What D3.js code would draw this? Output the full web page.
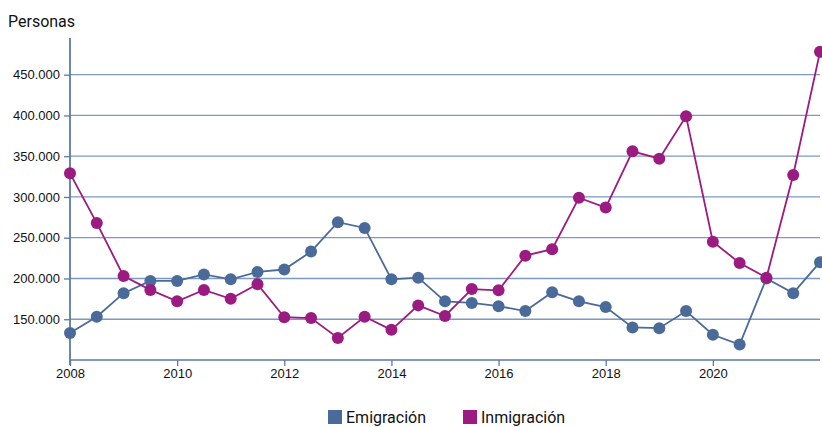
<!DOCTYPE html>
<html>
<head>
<meta charset="utf-8">
<script src="https://cdn.jsdelivr.net/npm/d3@7"></script>
<style>
  body { margin: 0; background: #fff; }
  svg { font-family: Roboto, "Liberation Sans", sans-serif; }
  .axis text { font-size: 13px; fill: #111; }
</style>
</head>
<body>
<script>
var width = 822;
var height = 427;
var margin = { top: 38, right: 2, bottom: 67, left: 70 };
var w = width - margin.left - margin.right;
var h = height - margin.top - margin.bottom;

// semiannual periods 2008 .. 2022
var periods = [2008, 2008.5, 2009, 2009.5, 2010, 2010.5, 2011, 2011.5, 2012, 2012.5,
    2013, 2013.5, 2014, 2014.5, 2015, 2015.5, 2016, 2016.5, 2017, 2017.5,
    2018, 2018.5, 2019, 2019.5, 2020, 2020.5, 2021, 2021.5, 2022];

var emigracion = [133000, 153000, 182000, 197000, 197000, 205000, 199000, 208000, 211000, 233000,
    269000, 262000, 199000, 201000, 172000, 170000, 166000, 160000, 183000, 172000,
    165000, 140000, 139000, 160000, 131000, 119000, 200000, 182000, 220000];

var inmigracion = [329000, 268000, 203000, 186000, 172000, 186000, 175000, 193000, 152500, 151500,
    127000, 153000, 137000, 167000, 154000, 187000, 185500, 228000, 236000, 299000,
    287000, 356000, 347000, 399000, 245000, 219000, 201000, 327000, 478000];

var yTicks = [150000, 200000, 250000, 300000, 350000, 400000, 450000];
var xTicks = [2008, 2010, 2012, 2014, 2016, 2018, 2020];

var seriesNames = ["Emigración", "Inmigración"];
var colors = ["#4a6b9a", "#9c1b80"];

var svg = d3.select("body").append("svg")
    .attr("width", width)
    .attr("height", height);

var chart = svg.append("g")
    .attr("transform", "translate(" + margin.left + "," + margin.top + ")");

var x = d3.scaleLinear()
    .domain([2008, 2022])
    .range([0, 750]);

var y = d3.scaleLinear()
    .domain([100000, 495000])
    .range([h, 0]);

var fmt = function (d) { return d3.format(",")(d).replace(/,/g, "."); };

// gridlines
chart.selectAll(".grid")
    .data(yTicks)
    .enter().append("line")
    .attr("class", "grid")
    .attr("x1", 0)
    .attr("x2", w)
    .attr("y1", function (d) { return y(d); })
    .attr("y2", function (d) { return y(d); })
    .style("stroke", "#7d98c2")
    .style("stroke-width", 1.3);

var yAxis = d3.axisLeft(y)
    .tickValues(yTicks)
    .tickSize(6)
    .tickPadding(4)
    .tickFormat(fmt);

var gy = chart.append("g")
    .attr("class", "axis")
    .call(yAxis);
gy.select(".domain").remove();
gy.selectAll("line").style("stroke", "#5b79a8").style("stroke-width", 1.3);

var xAxis = d3.axisBottom(x)
    .tickValues(xTicks)
    .tickSize(6)
    .tickPadding(3)
    .tickFormat(d3.format("d"));

var gx = chart.append("g")
    .attr("class", "axis")
    .attr("transform", "translate(0," + h + ")")
    .call(xAxis);
gx.select(".domain").remove();
gx.selectAll("line").style("stroke", "#5b79a8").style("stroke-width", 1.3);

// axis lines
chart.append("line")
    .attr("x1", 0).attr("x2", w)
    .attr("y1", h).attr("y2", h)
    .style("stroke", "#5b79a8").style("stroke-width", 1.5);

chart.append("line")
    .attr("x1", 0).attr("x2", 0)
    .attr("y1", 0).attr("y2", h + 5)
    .style("stroke", "#5b79a8").style("stroke-width", 1.8);

svg.append("text")
    .attr("x", 8)
    .attr("y", 27)
    .style("font-size", "16px")
    .style("fill", "#111")
    .text("Personas");

var series = [emigracion, inmigracion];

var line = d3.line()
    .x(function (d, i) { return x(periods[i]); })
    .y(function (d) { return y(d); });

series.forEach(function (vals, s) {
    chart.append("path")
        .datum(vals)
        .attr("d", line)
        .style("fill", "none")
        .style("stroke", colors[s])
        .style("stroke-width", 1.8);

    chart.selectAll(".dot" + s)
        .data(vals)
        .enter().append("circle")
        .attr("class", "dot" + s)
        .attr("cx", function (d, i) { return x(periods[i]); })
        .attr("cy", function (d) { return y(d); })
        .attr("r", 6)
        .style("fill", colors[s]);
});

// legend
var legendX = [328, 463];
var legend = svg.selectAll(".legend")
    .data(seriesNames)
    .enter().append("g")
    .attr("class", "legend")
    .attr("transform", function (d, i) { return "translate(" + legendX[i] + ",410)"; });

legend.append("rect")
    .attr("width", 14)
    .attr("height", 14)
    .style("fill", function (d, i) { return colors[i]; });

legend.append("text")
    .attr("x", 18)
    .attr("y", 13)
    .style("font-size", "16px")
    .style("fill", "#111")
    .text(function (d) { return d; });
</script>
</body>
</html>
